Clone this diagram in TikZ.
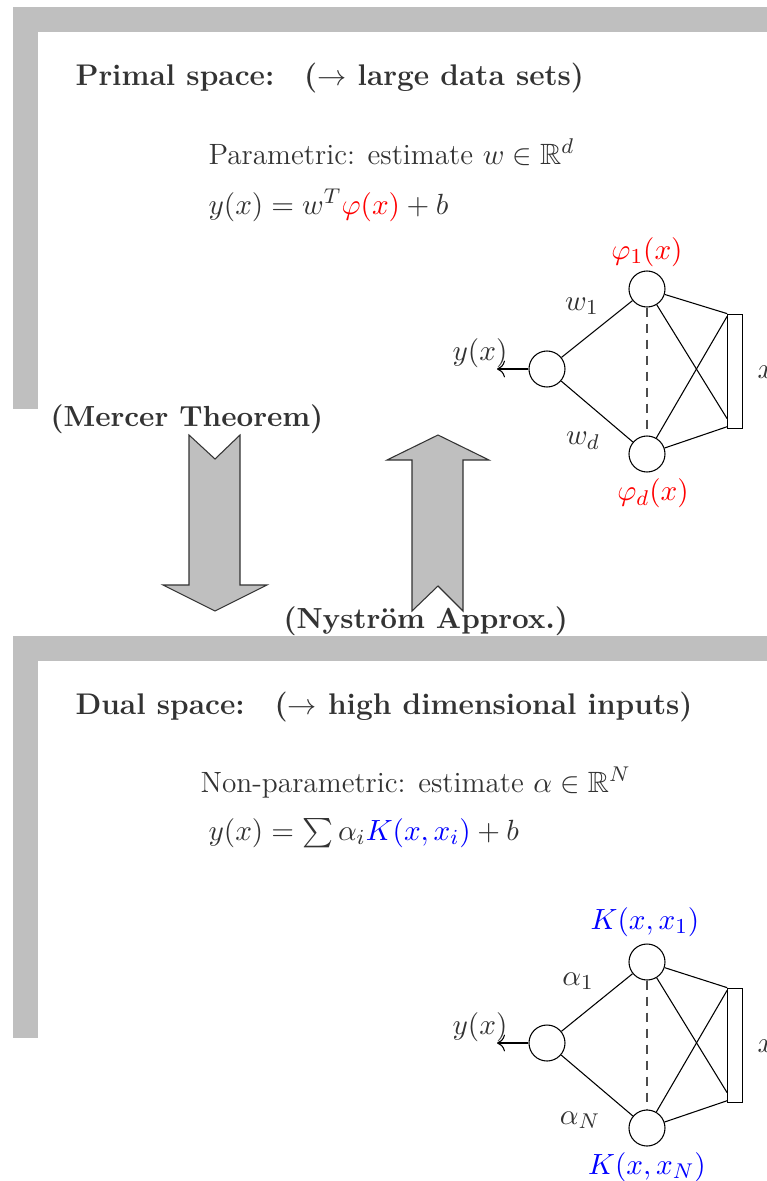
\documentclass[tikz,border=0pt]{standalone}
\usepackage{amsmath, amssymb}
\usepackage{xcolor}
\usepackage{tikz}
\usetikzlibrary{arrows.meta}

\definecolor{txtgray}{gray}{0.2}
\definecolor{framegray}{gray}{0.75}

\begin{document}
\begin{tikzpicture}[x=0.375pt, y=-0.375pt,
  every node/.style={text=txtgray},
  frame/.style={fill=framegray},
  hdr/.style={anchor=base west, inner sep=0pt, font=\fontsize{11.2}{13}\selectfont\bfseries},
  body/.style={anchor=base west, inner sep=0pt, font=\fontsize{11}{13}\selectfont},
  tag/.style={anchor=base west, inner sep=0pt, font=\fontsize{10.9}{13}\selectfont\bfseries},
  unit/.style={draw, circle, minimum size=13.5pt, inner sep=0pt},
  inp/.style={draw, rectangle, minimum width=5.5pt, minimum height=43pt, inner sep=0pt},
  lbl/.style={font=\fontsize{11}{13}\selectfont, inner sep=0pt},
  fat/.style={draw=black!80, fill=framegray, line join=miter},
  lin/.style={thin},
  dsh/.style={thin, draw=black!70, dash pattern=on 3.5pt off 2.5pt},
  outarr/.style={-{To[length=3pt]}, thin}
]
\useasboundingbox (0,0) rectangle (767,1181);

%% Frames
\fill[frame] (13,7) rectangle (790,32);
\fill[frame] (13,7) rectangle (38,409);
\fill[frame] (13,636) rectangle (790,661);
\fill[frame] (13,636) rectangle (38,1038);

%% Primal space
\node[hdr]  (prim) at (75,85)   {Primal space:\quad ($\rightarrow$ large data sets)};
\node[body] (par)  at (208,164) {Parametric: estimate $w\in\mathbb{R}^d$};
\node[body] (mod)  at (208,214) {$y(x)=w^T{\color{red}\varphi(x)}+b$};

%% Big arrows
\draw[fat] (189,435) -- (215,459) -- (240,435) -- (240,585) -- (267,585)
  -- (215,611) -- (163,585) -- (189,585) -- cycle;
\draw[fat] (438,435) -- (489,460) -- (463,460) -- (463,611) -- (438,586)
  -- (412,611) -- (412,460) -- (387,460) -- cycle;
\node[tag] (mer) at (50,426)  {(Mercer Theorem)};
\node[tag] (nys) at (283,628) {(Nystr\"om Approx.)};

%% Dual space
\node[hdr]  (dual) at (75,714)  {Dual space:\quad ($\rightarrow$ high dimensional inputs)};
\node[body] (npar) at (200,792) {Non-parametric: estimate $\alpha\in\mathbb{R}^N$};
\node[body] (kmod) at (208,840) {$y(x)=\sum\alpha_i{\color{blue}K(x,x_i)}+b$};

%% Primal network
\node[unit] (o1)  at (547,369)   {};
\node[unit] (p1)  at (647,289)   {};
\node[unit] (pd)  at (647,454)   {};
\node[inp]  (in1) at (735,371.5) {};
\coordinate (y1) at (497,369);
\draw[outarr] (o1) -- (y1);
\draw[lin] (o1) -- (p1);
\draw[lin] (o1) -- (pd);
\draw[dsh] (p1) -- (pd);
\draw[lin] (p1) -- (in1.north west);
\draw[lin] (p1) -- ([yshift=4pt]in1.south west);
\draw[lin] (pd) -- ([yshift=-1pt]in1.north west);
\draw[lin] (pd) -- ([yshift=1pt]in1.south west);
\node[lbl] at (480,353) {$y(x)$};
\node[lbl] at (582,306) {$w_1$};
\node[lbl] at (583,441) {$w_d$};
\node[lbl, text=red] at (647,252) {$\varphi_1(x)$};
\node[lbl, text=red] at (653,493) {$\varphi_d(x)$};
\node[lbl, anchor=west] at (757,372) {$x$};

%% Dual network
\node[unit] (o2)  at (547,1043)   {};
\node[unit] (k1)  at (647,962)    {};
\node[unit] (kN)  at (647,1128)   {};
\node[inp]  (in2) at (735,1045.5) {};
\coordinate (y2) at (497,1043);
\draw[outarr] (o2) -- (y2);
\draw[lin] (o2) -- (k1);
\draw[lin] (o2) -- (kN);
\draw[dsh] (k1) -- (kN);
\draw[lin] (k1) -- (in2.north west);
\draw[lin] (k1) -- ([yshift=4pt]in2.south west);
\draw[lin] (kN) -- ([yshift=-1pt]in2.north west);
\draw[lin] (kN) -- ([yshift=1pt]in2.south west);
\node[lbl] at (480,1027) {$y(x)$};
\node[lbl] at (578,981)  {$\alpha_1$};
\node[lbl] at (580,1120) {$\alpha_N$};
\node[lbl, text=blue] at (645,922)  {$K(x,x_1)$};
\node[lbl, text=blue] at (647,1167) {$K(x,x_N)$};
\node[lbl, anchor=west] at (757,1046) {$x$};

\end{tikzpicture}
\end{document}
